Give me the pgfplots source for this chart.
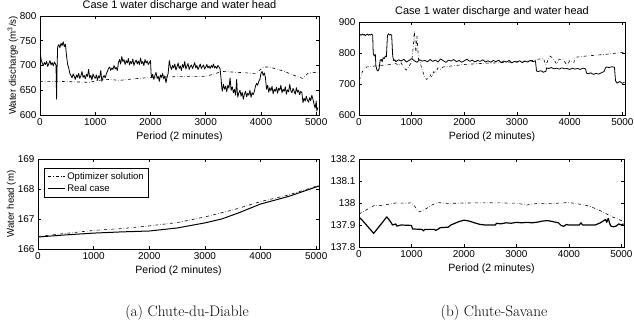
\documentclass[border=0pt]{standalone}
\usepackage{pgfplots}
\pgfplotsset{compat=1.18}
\usepackage{fontspec}
\newfontfamily\arial{Liberation Sans}

\pgfplotsset{
  panel/.style={
    scale only axis,
    anchor=south west,
    xmin=0, xmax=5050,
    xtick={0,1000,2000,3000,4000,5000},
    tick align=inside,
    xtick pos=both, ytick pos=both,
    major tick length=3pt,
    tick style={black, line width=0.5pt},
    axis line style={line width=0.8pt},
    scaled ticks=false,
    tick label style={font=\arial\fontsize{10}{12}\selectfont},
    /pgf/number format/assume math mode=true,
    /pgf/number format/1000 sep={},
    x label style={font=\arial\fontsize{10.6}{12}\selectfont},
    y label style={font=\arial\fontsize{9.7}{11}\selectfont},
    ylabel shift=-5pt,
    xlabel shift=-1pt,
    title style={font=\arial\fontsize{11}{13}\selectfont, yshift=-4.5pt},
    xlabel={Period (2 minutes)},
  },
  opt/.style={black, dash dot, line width=0.6pt},
  real/.style={black, line width=0.8pt, line join=round},
}

\begin{document}
\begin{tikzpicture}
\useasboundingbox (0,0) rectangle (634bp,327bp);

% ---------------- Chute-du-Diable: discharge ----------------
\begin{axis}[panel, at={(40bp,212bp)}, width=279bp, height=99bp,
  ymin=600, ymax=800, ytick={600,650,700,750,800},
  title={Case 1 water discharge and water head},
  ylabel={Water discharge (m\textsuperscript{3}/s)}]
\addplot[opt] coordinates {
(0,668) (300,668) (600,667) (900,666) (1000,669) (1200,672) (1450,670)
(1600,672) (1800,674) (2000,676) (2350,677) (2700,678) (3000,678)
(3300,688) (3600,686) (3900,684) (4050,697) (4150,697) (4400,689)
(4600,680) (4750,674) (4850,684) (5050,687)};
\addplot[real] coordinates {
(0,730) (10,722) (20,712) (40,705) (60,700) (80,706) (100,702) (120,708)
(140,698) (160,704) (180,710) (200,701) (220,706) (240,699) (260,707)
(280,703) (290,700) (300,632) (310,700) (320,738) (340,742) (360,736)
(380,745) (400,740) (420,748) (440,738) (460,743) (480,720) (500,702)
(520,695) (540,684) (560,680) (580,675) (600,683) (620,678) (640,672)
(660,681) (680,676) (700,684) (720,674) (740,679) (760,688) (780,676)
(800,680) (820,673) (840,682) (860,678) (880,692) (900,675) (920,680)
(940,671) (960,683) (980,677) (1000,674) (1020,681) (1040,670) (1060,679)
(1080,675) (1100,690) (1120,668) (1140,676) (1160,680) (1180,675)
(1200,683) (1220,688) (1240,694) (1260,697) (1280,690) (1300,695)
(1320,692) (1340,700) (1360,693) (1380,696) (1400,690) (1420,706)
(1440,712) (1460,703) (1480,718) (1500,708) (1520,712) (1540,702)
(1560,710) (1580,705) (1600,714) (1620,701) (1640,708) (1660,704)
(1680,713) (1700,700) (1720,707) (1740,711) (1760,703) (1780,709)
(1800,702) (1820,715) (1840,704) (1860,708) (1880,700) (1900,712)
(1920,705) (1940,709) (1960,702) (1980,706) (2000,710) (2010,685)
(2020,676) (2040,682) (2060,672) (2080,680) (2100,686) (2120,674)
(2140,678) (2160,668) (2180,681) (2200,676) (2220,684) (2240,673)
(2260,679) (2280,665) (2300,677) (2320,684) (2340,710) (2360,698)
(2380,692) (2400,700) (2420,695) (2440,703) (2460,691) (2480,697)
(2500,705) (2520,694) (2540,699) (2560,690) (2580,702) (2600,696)
(2620,708) (2640,693) (2660,699) (2680,704) (2700,692) (2720,698)
(2740,701) (2760,694) (2780,699) (2800,706) (2820,695) (2840,700)
(2860,692) (2880,697) (2900,703) (2920,694) (2940,698) (2960,701)
(2980,693) (3000,697) (3020,702) (3040,695) (3060,699) (3080,694)
(3100,700) (3120,696) (3140,703) (3160,695) (3180,698) (3200,694)
(3220,700) (3240,697) (3260,693) (3280,670) (3290,655) (3300,648)
(3320,662) (3340,652) (3360,658) (3380,647) (3400,660) (3420,654)
(3440,675) (3460,650) (3480,657) (3500,645) (3520,652) (3540,640)
(3560,672) (3570,648) (3580,636) (3600,645) (3620,650) (3640,638)
(3660,646) (3680,632) (3700,642) (3720,648) (3740,637) (3760,644)
(3780,640) (3800,650) (3820,636) (3840,645) (3860,641) (3880,648)
(3900,658) (3920,664) (3940,660) (3960,668) (3980,672) (4000,684)
(4020,688) (4040,680) (4060,685) (4080,676) (4100,652) (4120,660)
(4140,646) (4160,655) (4180,649) (4200,658) (4220,643) (4240,652)
(4260,648) (4280,656) (4300,644) (4320,654) (4340,650) (4360,660)
(4380,645) (4400,652) (4420,648) (4440,657) (4460,642) (4480,651)
(4500,647) (4520,662) (4540,649) (4560,645) (4580,654) (4600,648)
(4620,642) (4640,655) (4660,646) (4680,650) (4700,641) (4720,648)
(4740,645) (4760,625) (4780,634) (4800,628) (4820,638) (4840,630)
(4860,626) (4880,635) (4900,629) (4920,640) (4940,632) (4960,622)
(4980,614) (5000,628) (5010,608) (5030,615)};
\end{axis}

% ---------------- Chute-Savane: discharge ----------------
\begin{axis}[panel, at={(359bp,212bp)}, width=266bp, height=93bp,
  ymin=600, ymax=900, ytick={600,700,800,900},
  title={Case 1 water discharge and water head}]
\addplot[opt] coordinates {
(0,712) (30,722) (60,738) (100,750) (150,755) (200,756) (300,758)
(400,760) (500,761) (600,763) (700,766) (750,760) (800,768) (850,752)
(900,745) (950,758) (1000,770) (1030,820) (1050,870) (1080,800)
(1100,855) (1130,780) (1160,770) (1200,745) (1250,722) (1280,715)
(1320,718) (1350,730) (1380,722) (1420,740) (1450,735) (1500,752)
(1550,748) (1600,755) (1700,757) (1800,759) (1900,761) (2000,763)
(2200,765) (2400,767) (2600,768) (2800,770) (3000,772) (3200,774)
(3300,776) (3400,780) (3500,782) (3550,762) (3620,790) (3680,784)
(3750,765) (3800,780) (3880,778) (3950,760) (4000,775) (4080,768)
(4100,786) (4300,790) (4500,793) (4700,796) (4900,800) (5040,803)};
\addplot[real] coordinates {
(0,858) (20,860) (40,857) (60,861) (80,858) (100,860) (120,856)
(140,859) (160,861) (180,857) (200,860) (220,858) (240,861) (260,857)
(270,800) (290,790) (310,795) (320,760) (340,745) (360,742) (380,748)
(400,775) (420,780) (440,772) (460,785) (480,782) (500,790) (520,788)
(540,856) (560,862) (580,858) (600,860) (620,857) (640,790) (660,775)
(680,778) (700,772) (750,778) (800,774) (850,780) (900,771) (950,776)
(1000,782) (1050,775) (1100,770) (1150,778) (1200,774) (1250,776)
(1300,772) (1350,779) (1400,773) (1450,777) (1500,771) (1550,781)
(1600,775) (1650,770) (1700,777) (1750,774) (1800,779) (1850,772)
(1900,776) (1950,770) (2000,775) (2050,780) (2100,773) (2150,777)
(2200,771) (2250,776) (2300,773) (2350,778) (2400,771) (2450,775)
(2500,770) (2550,776) (2600,772) (2650,777) (2700,769) (2750,774)
(2800,771) (2850,776) (2900,768) (2950,773) (3000,770) (3050,775)
(3100,769) (3150,774) (3200,771) (3250,776) (3300,772) (3350,775)
(3370,742) (3400,740) (3450,743) (3500,738) (3550,741) (3560,752)
(3600,750) (3650,753) (3700,749) (3750,751) (3800,748) (3850,752)
(3900,749) (3950,750) (4000,747) (4050,751) (4100,748) (4150,750)
(4200,747) (4250,751) (4300,749) (4320,735) (4350,733) (4400,736)
(4450,731) (4500,734) (4550,732) (4600,736) (4650,740) (4680,752)
(4700,755) (4750,753) (4800,756) (4850,754) (4870,710) (4900,703)
(4950,708) (5000,702) (5040,706)};
\end{axis}

% ---------------- Chute-du-Diable: head ----------------
\begin{axis}[panel, at={(38bp,78bp)}, width=281bp, height=90bp,
  ymin=166, ymax=169, ytick={166,167,168,169},
  ylabel={Water head (m)},
  legend cell align=left,
  legend style={at={(0.021,0.903)}, anchor=north west, draw=black,
    line width=0.8pt, font=\arial\fontsize{9.6}{11}\selectfont}]
\addplot[opt] coordinates {
(0,166.42) (500,166.52) (1000,166.62) (1500,166.68) (2000,166.77)
(2500,166.88) (3000,167.07) (3500,167.30) (4000,167.58) (4500,167.80)
(5050,168.12)};
\addlegendentry{Optimizer solution}
\addplot[real, line width=1pt] coordinates {
(0,166.40) (500,166.47) (1000,166.53) (1500,166.57) (2000,166.60)
(2500,166.70) (3000,166.87) (3300,167.00) (3600,167.20) (4000,167.50)
(4500,167.75) (5050,168.10)};
\addlegendentry{Real case}
\end{axis}

% ---------------- Chute-Savane: head ----------------
\begin{axis}[panel, at={(359bp,80bp)}, width=265bp, height=88bp,
  ymin=137.8, ymax=138.2, ytick={137.8,137.9,138,138.1,138.2},
  yticklabels={137.8,137.9,138,138.1,138.2}]
\addplot[opt] coordinates {
(0,137.950) (150,137.970) (300,137.990) (400,137.988) (500,137.992)
(700,138.000) (900,137.999) (1000,138.001) (1050,137.990) (1100,137.970)
(1150,137.960) (1250,137.970) (1400,137.992) (1500,138.002) (1700,137.998)
(2000,138.000) (2500,138.001) (3000,137.999) (3200,137.991) (3400,137.998)
(3700,137.998) (4000,138.002) (4200,137.995) (4400,137.985) (4600,137.965)
(4800,137.940) (5000,137.920) (5050,137.915)};
\addplot[real, line width=1.2pt] coordinates {
(0,137.935) (50,137.925) (280,137.862) (530,137.937) (600,137.915)
(640,137.900) (700,137.905) (720,137.895) (800,137.900) (1000,137.898)
(1020,137.882) (1200,137.880) (1230,137.873) (1250,137.880) (1440,137.880)
(1460,137.875) (1500,137.880) (1550,137.888) (1700,137.890) (1750,137.900)
(1800,137.905) (1900,137.915) (2000,137.922) (2100,137.918) (2200,137.910)
(2300,137.903) (2400,137.900) (2600,137.900) (2620,137.908) (2700,137.905)
(2800,137.910) (2900,137.908) (3000,137.912) (3100,137.910) (3200,137.912)
(3300,137.910) (3400,137.913) (3500,137.918) (3600,137.920) (3700,137.915)
(3800,137.910) (3850,137.898) (3900,137.894) (3950,137.902) (4000,137.900)
(4200,137.900) (4230,137.910) (4260,137.900) (4500,137.900) (4600,137.910)
(4650,137.918) (4700,137.925) (4720,137.912) (4750,137.930) (4780,137.905)
(4800,137.895) (4850,137.892) (4900,137.895) (4950,137.905) (5000,137.900)
(5040,137.905)};
\end{axis}

% sub-figure captions
\node[font=\fontsize{15.3}{18}\selectfont] at (187bp,14bp) {(a) Chute-du-Diable};
\node[font=\fontsize{15.3}{18}\selectfont] at (494bp,14bp) {(b) Chute-Savane};
\end{tikzpicture}
\end{document}
